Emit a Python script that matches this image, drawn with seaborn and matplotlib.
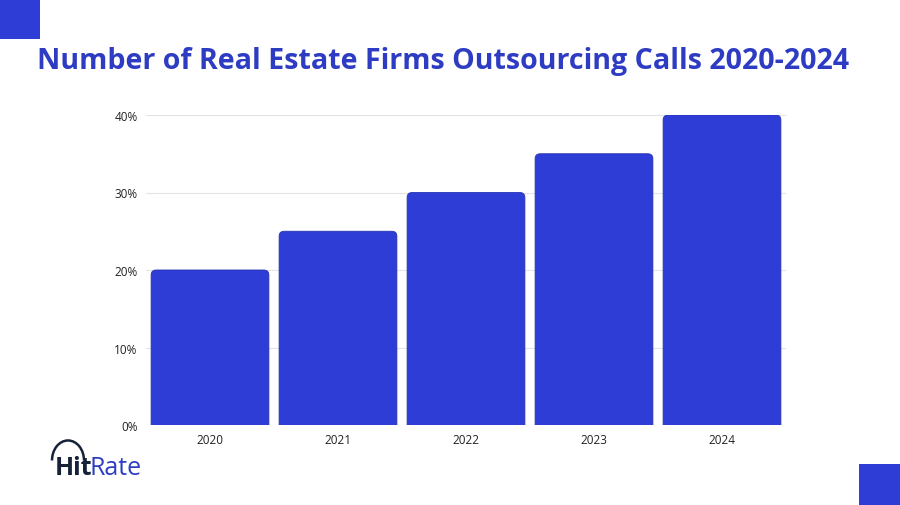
import matplotlib
matplotlib.use("Agg")
import matplotlib.pyplot as plt
import matplotlib.patches as mpatches
import seaborn as sns
import pandas as pd

# ------------------------------------------------------
# Data
# ------------------------------------------------------
years = ["2020", "2021", "2022", "2023", "2024"]
share = [20, 25, 30, 35, 40]
y_ticks = [0, 10, 20, 30, 40]
y_labels = ["0%", "10%", "20%", "30%", "40%"]

BLUE = "#2d3dd6"
TITLE_BLUE = "#2e3cc4"

df = pd.DataFrame({"Year": years, "Share": share})

sns.set_theme(style="white")
plt.rcParams["font.family"] = ["Open Sans", "DejaVu Sans"]

fig = plt.figure(figsize=(9, 5.06), dpi=100)
ax = fig.add_axes([146 / 900, 80 / 506, 640 / 900, 310 / 506])

sns.barplot(data=df, x="Year", y="Share", color=BLUE, width=0.92,
            saturation=1, ax=ax)

# swap plain bars for ones with softly rounded corners
for p in list(ax.patches):
    x, w, h = p.get_x(), p.get_width(), p.get_height()
    p.remove()
    rb = mpatches.FancyBboxPatch((x, -2), w, h + 2,
                                 boxstyle="round,pad=0,rounding_size=0.04",
                                 mutation_aspect=16, fc=BLUE,
                                 ec="#2533b0", lw=0.6, zorder=2)
    ax.add_patch(rb)

ax.set_ylim(0, 40)
ax.set_xlim(-0.5, 4.5)
ax.set_yticks(y_ticks)
ax.set_yticklabels(y_labels)
ax.yaxis.grid(True, color="#e3e3e3", lw=0.8, zorder=0)
ax.set_axisbelow(True)
for s in ax.spines.values():
    s.set_visible(False)
ax.set_xlabel("")
ax.set_ylabel("")
ax.tick_params(axis="both", length=0, labelsize=8.5, colors="#222222", pad=6)
ax.patch.set_alpha(0)

# title
fig.text(0.492, 0.878, "Number of Real Estate Firms Outsourcing Calls 2020-2024",
         ha="center", va="center", fontsize=20.6, fontweight="bold",
         color=TITLE_BLUE)

# corner squares
fig.patches.append(mpatches.Rectangle((0, 466 / 506), 40 / 900, 40 / 506,
                                      transform=fig.transFigure, fc=BLUE, ec="none"))
fig.patches.append(mpatches.Rectangle((859 / 900, 0), 41 / 900, 41 / 506,
                                      transform=fig.transFigure, fc=BLUE, ec="none"))

# logo
hit = fig.text(55 / 900, 0.075, "Hit", ha="left", va="center", fontsize=18,
               fontweight="bold", color="#152238")
fig.canvas.draw()
bb = hit.get_window_extent(fig.canvas.get_renderer())
fig.text(bb.x1 / 900 - 0.003, 0.075, "Rate", ha="left", va="center", fontsize=18,
         color="#2e3cc4")
fig.patches.append(mpatches.Arc((68 / 900, 0.088), 32 / 900, 40 / 506,
                                theta1=0, theta2=180, transform=fig.transFigure,
                                color="#152238", lw=1.8))

fig.savefig("out.png", dpi=100, facecolor="white")
